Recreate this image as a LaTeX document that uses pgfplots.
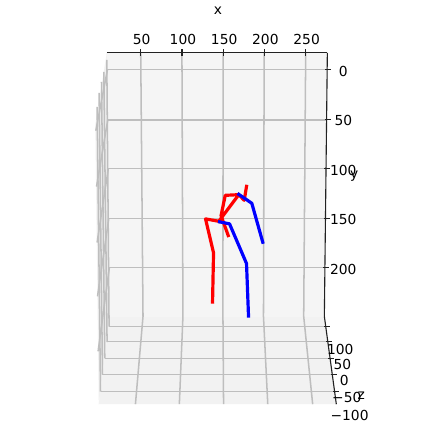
\documentclass[border=0pt]{standalone}
\usepackage{fontspec}
\setmainfont{DejaVu Sans}
\usepackage{pgfplots}
\pgfplotsset{compat=1.18}
\definecolor{wallc}{HTML}{F5F5F5}
\definecolor{floorc}{HTML}{F2F2F2}
\definecolor{sidec}{HTML}{F0F0F0}
\definecolor{gridc}{HTML}{BEBEBE}
\definecolor{spinec}{HTML}{222222}
\begin{document}
\begin{tikzpicture}
% backdrop: the 3d panes, in picture pixels
\begin{axis}[
  at={(0,0)}, anchor=north west,
  scale only axis, width=305.28bp, height=306bp,
  xmin=0, xmax=424, ymin=0, ymax=425, y dir=reverse,
  hide axis, clip=false,
  gl/.style={gridc, line width=1.1bp, forget plot},
  sp/.style={spinec, line width=0.8bp, forget plot},
  font=\fontsize{10}{12}\selectfont,
]
\addplot[fill=white, draw=none] coordinates {(0,0)(424,0)(424,425)(0,425)(0,0)};
% panes
\addplot[fill=sidec, draw=none] coordinates {(107,53)(110,317)(99,405)(95.5,125)(107,53)};
\addplot[fill=wallc, draw=none] coordinates {(107,53)(328,53)(325,317)(110,317)(107,53)};
\addplot[fill=floorc, draw=none] coordinates {(110,317)(325,317)(337,405)(99,405)(110,317)};
% side pane grid
\addplot[gl] coordinates {(107,60)(109.3,327.3)};
\addplot[gl] coordinates {(104,72)(107.3,342.7)};
\addplot[gl] coordinates {(101.7,82)(105,359)};
\addplot[gl] coordinates {(99.3,93)(102.7,375.3)};
\addplot[gl] coordinates {(97.3,107)(100.7,392.3)};
\addplot[gl] coordinates {(107.7,69.7)(96,131)};
\addplot[gl] coordinates {(108,120)(96.7,187)};
\addplot[gl] coordinates {(108.5,169)(97.3,243)};
\addplot[gl] coordinates {(109,219)(97.7,297)};
\addplot[gl] coordinates {(109.6,268)(98.3,352)};
% back pane grid
\addplot[gl] coordinates {(107.7,69.7)(327.8,69.7)};
\addplot[gl] coordinates {(108,120)(327.3,120)};
\addplot[gl] coordinates {(108.5,169)(326.7,169)};
\addplot[gl] coordinates {(109,219)(326.2,219)};
\addplot[gl] coordinates {(109.6,268)(325.6,268)};
\addplot[gl] coordinates {(141,53)(143.3,317)(135.7,405)};
\addplot[gl] coordinates {(182.3,53)(183.3,317)(179.7,405)};
\addplot[gl] coordinates {(223.5,53)(223.4,317)(224,405)};
\addplot[gl] coordinates {(264.7,53)(264,317)(268.3,405)};
\addplot[gl] coordinates {(306.3,53)(304.3,317)(313.3,405)};
% floor grid
\addplot[gl] coordinates {(109.3,327.3)(326.4,327.3)};
\addplot[gl] coordinates {(107.3,342.3)(328.5,342.3)};
\addplot[gl] coordinates {(105,359)(330.7,359)};
\addplot[gl] coordinates {(102.7,375.3)(333,375.3)};
\addplot[gl] coordinates {(100.7,392.3)(335.2,392.3)};
% slanted spines and their ticks
\addplot[sp] coordinates {(328,53)(325,317)(337,405)};
\addplot[sp] coordinates {(325.8,69.7)(331.8,69.7)};
\addplot[sp] coordinates {(325.3,120)(331.3,120)};
\addplot[sp] coordinates {(324.7,169)(330.7,169)};
\addplot[sp] coordinates {(324.2,219)(330.2,219)};
\addplot[sp] coordinates {(323.6,268)(329.6,268)};
\addplot[sp] coordinates {(325,327.3)(331,327.3)};
\addplot[sp] coordinates {(327,342.3)(333,342.3)};
\addplot[sp] coordinates {(329,359)(335,359)};
\addplot[sp] coordinates {(331.5,375.3)(337.5,375.3)};
\addplot[sp] coordinates {(333.7,392.3)(339.7,392.3)};
% z tick labels and axis labels
\node at (axis cs:341,350) {100};
\node at (axis cs:343,365) {50};
\node at (axis cs:345,381.7) {0};
\node at (axis cs:347.5,398) {−50};
\node at (axis cs:350.3,416) {−100};
\node at (axis cs:362,397) {z};
\node at (axis cs:355,177) {y};
\end{axis}
% front axis: x on top, y on the right, with the two skeletons
\begin{axis}[
  at={(77.04bp,-38.16bp)}, anchor=north west,
  scale only axis, width=159.12bp, height=190.08bp,
  xmin=8.86, xmax=276.3, ymin=-16.84, ymax=249.4, y dir=reverse,
  axis x line*=top, axis y line*=right,
  y axis line style={draw=none}, axis line style={spinec, line width=0.8bp},
  xtick={50,100,150,200,250}, ytick={0,50,100,150,200},
  x tick style={spinec, line width=0.8bp}, y tick style={draw=none},
  tick align=center, major tick length=5bp,
  /pgf/number format/assume math mode=true,
  ticklabel style={font=\fontsize{10}{12}\selectfont},
  xticklabel style={yshift=0bp, xshift=0.7bp},
  yticklabel style={anchor=center, xshift=9bp, yshift=-1.2bp},
  xlabel={x}, xlabel style={font=\fontsize{10}{12}\selectfont, yshift=7bp, xshift=0.7bp},
  clip=false,
]
\addplot[red, line width=2.3bp, line join=round, line cap=rect] coordinates {
  (144.7,153.3)(128.6,150.9)(138.3,185.2)(137.1,235.0)};
\addplot[red, line width=2.3bp, line join=round, line cap=rect] coordinates {
  (144.7,153.3)(168.9,126.4)(152.5,127.1)(147.4,147.6)(156.1,167.7)};
\addplot[red, line width=2.3bp, line join=round, line cap=rect] coordinates {
  (168.9,126.4)(175.5,132.1)(178.3,118.0)};
\addplot[blue, line width=2.3bp, line join=round, line cap=rect] coordinates {
  (145.6,153.9)(157.7,155.9)(178.3,196.0)(180.7,249.1)};
\addplot[blue, line width=2.3bp, line join=round, line cap=rect] coordinates {
  (168.9,126.1)(184.7,135.1)(198.0,174.5)};
\end{axis}
\end{tikzpicture}
\end{document}
